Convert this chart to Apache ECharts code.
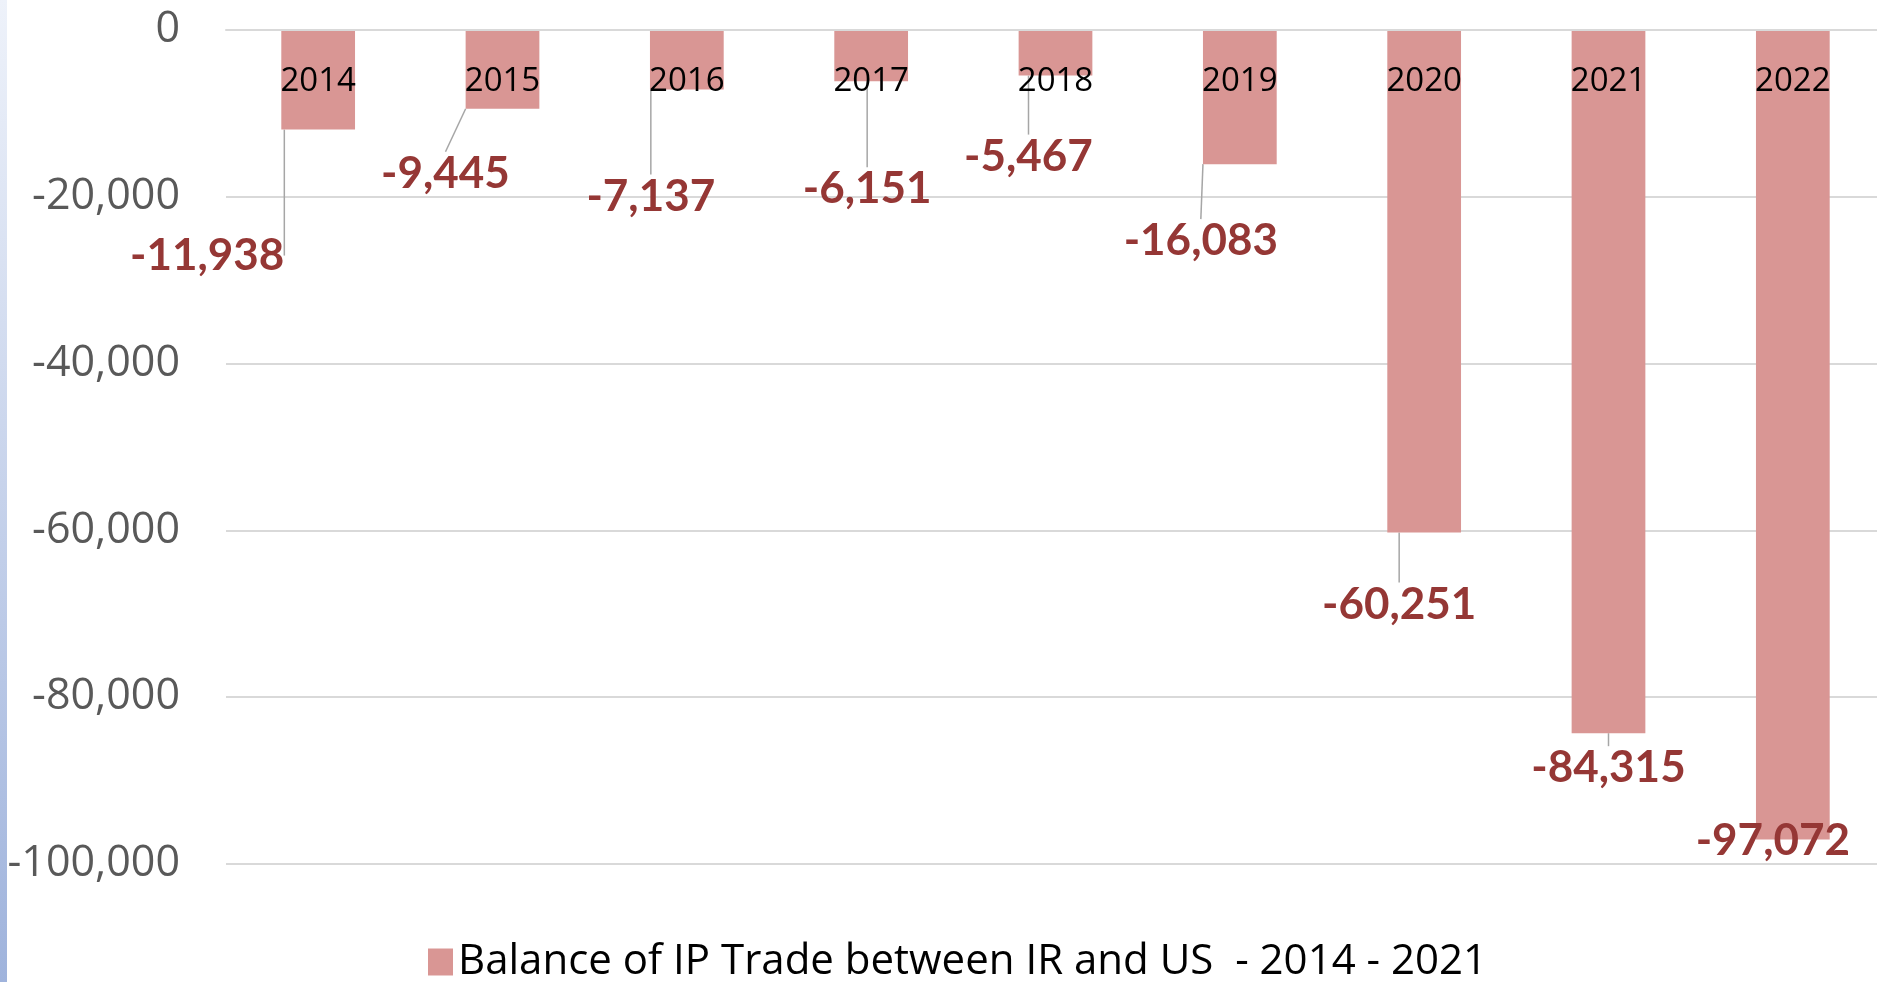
<!DOCTYPE html>
<html>
<head>
<meta charset="utf-8">
<script src="https://cdn.jsdelivr.net/npm/echarts@6/dist/echarts.min.js"></script>
<style>
  html, body { margin: 0; padding: 0; background: #ffffff; }
  #chart { width: 1877px; height: 982px; }
</style>
</head>
<body>
<div id="chart"></div>
<script>
  // years on the category axis
  const years = ['2014', '2015', '2016', '2017', '2018', '2019', '2020', '2021', '2022']
  // balance of IP trade values
  const balance = [-11938, -9445, -7137, -6151, -5467, -16083, -60251, -84315, -97072]
  const yTicks = { min: -100000, max: 0, interval: 20000 }
  const seriesName = 'Balance of IP Trade between IR and US  - 2014 - 2021'

  // where each data label sits relative to the bar end (leader lines follow)
  const labelShift = [
    [-111, 104], [-57, 43], [-36, 85], [-4, 86], [-27, 59],
    [-39, 55], [-25, 50], [0, 13], [-20, -21]
  ]

  const fmt = v => Number(v).toLocaleString('en-US')

  const chart = echarts.init(document.getElementById('chart'))
  const option = {
    animation: false,
    backgroundColor: '#ffffff',
    graphic: [{
      type: 'rect',
      left: 0, top: 0,
      shape: { width: 7, height: 982 },
      style: {
        fill: new echarts.graphic.LinearGradient(0, 0, 0, 1, [
          { offset: 0, color: '#eef2fa' },
          { offset: 1, color: '#9fb3dc' }
        ])
      }
    }],
    // plot runs a little past the right edge, like the original slide
    grid: { left: 226, width: 1659, top: 30, bottom: 118, outerBoundsMode: 'none' },
    legend: {
      left: 423,
      top: 936,
      icon: 'rect',
      itemWidth: 25,
      itemHeight: 27,
      itemGap: 12,
      textStyle: { fontFamily: 'Open Sans', fontSize: 42, color: '#000000' },
      data: [seriesName]
    },
    xAxis: {
      type: 'category',
      data: years,
      position: 'top',
      z: 10,
      axisLine: { lineStyle: { color: '#d9d9d9', width: 2 } },
      axisTick: { show: false },
      axisLabel: {
        inside: true,
        margin: 35,
        fontFamily: 'Open Sans',
        fontSize: 33,
        color: '#000000'
      }
    },
    yAxis: {
      type: 'value',
      min: yTicks.min,
      max: yTicks.max,
      interval: yTicks.interval,
      axisLine: { show: false },
      axisTick: { show: false },
      splitLine: { lineStyle: { color: '#d9d9d9', width: 2 } },
      axisLabel: {
        margin: 46,
        fontFamily: 'Open Sans',
        fontSize: 43,
        color: '#595959',
        formatter: fmt
      }
    },
    series: [{
      name: seriesName,
      type: 'bar',
      data: balance,
      barWidth: '40%',
      itemStyle: { color: '#d99694' },
      label: {
        show: true,
        position: 'bottom',
        distance: 0,
        fontFamily: 'Lato',
        fontWeight: 'bold',
        fontSize: 44,
        color: '#953735',
        formatter: p => fmt(p.value)
      },
      labelLine: {
        show: true,
        lineStyle: { color: '#a6a6a6', width: 1.5 }
      },
      labelLayout: p => ({ dx: labelShift[p.dataIndex][0], dy: labelShift[p.dataIndex][1] })
    }]
  }
  chart.setOption(option)
</script>
</body>
</html>
